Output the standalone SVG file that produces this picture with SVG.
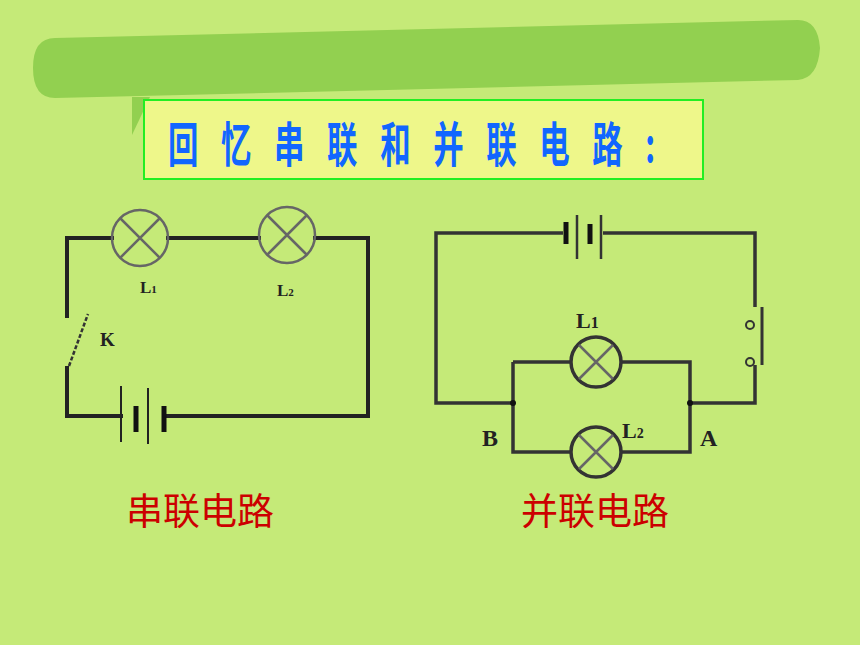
<svg xmlns="http://www.w3.org/2000/svg" width="860" height="645" viewBox="0 0 860 645">
<style>
.w{fill:none;stroke:#222;stroke-width:4;stroke-linecap:square}
.pw{fill:none;stroke:#333;stroke-width:3.5}
.lamp{fill:none;stroke:#666;stroke-width:2.5}
.lbl{font-family:"Liberation Serif",serif;font-weight:bold;fill:#222}
.red{font-family:"Noto Sans CJK SC",sans-serif;font-size:37px;fill:#cc0000;text-anchor:middle}
</style>
<rect width="860" height="645" fill="#c5ea78"/>
<g id="banner">
<path d="M55,38 L798,20 Q818,20 820,48 Q818,78 798,80 L55,98 Q33,98 33,68 Q33,38 55,38 Z" fill="#92d050"/>
<path d="M132,97 L132,135 L150,97 Z" fill="#92d050"/>
</g>
<g id="title">
<rect x="144" y="100" width="559" height="79" fill="#eef78a" stroke="#22ee22" stroke-width="2"/>
<text transform="translate(168,162) scale(0.8,1.25)" x="0" y="0" textLength="609" lengthAdjust="spacing" font-family="Noto Sans CJK SC,sans-serif" font-weight="bold" font-size="38" fill="#1166ff">回忆串联和并联电路:</text>
</g>
<g id="connectors">
<path class="w" d="M112,238 H67 V316 M67,368 V416 H121 M164,416 H368 V238 H315 M168,238 H259"/>
<line x1="69" y1="366" x2="88" y2="314" stroke="#333" stroke-width="2.5" stroke-dasharray="4,2"/>
<path class="pw" d="M563,233 H436 V403 H513 M603,233 H755 V307 M755,365 V403 H690 M513,362 H571 M621,362 H690 V452 H621 M571,452 H513 V362"/>
<line x1="762" y1="307" x2="762" y2="365" stroke="#333" stroke-width="3"/>
</g>
<g id="series-battery">
<line x1="121" y1="386" x2="121" y2="442" stroke="#222" stroke-width="2"/>
<line x1="136" y1="406" x2="136" y2="432" stroke="#111" stroke-width="5"/>
<line x1="148" y1="388" x2="148" y2="444" stroke="#222" stroke-width="2"/>
<line x1="164" y1="406" x2="164" y2="432" stroke="#111" stroke-width="5"/>
</g>
<g id="L1s"><circle class="lamp" cx="140" cy="238" r="28"/><path class="lamp" d="M120,218 L160,258 M160,218 L120,258"/><text class="lbl" x="140" y="293" font-size="17">L<tspan font-size="11">1</tspan></text></g>
<g id="L2s"><circle class="lamp" cx="287" cy="235" r="28"/><path class="lamp" d="M267,215 L307,255 M307,215 L267,255"/><text class="lbl" x="277" y="296" font-size="17">L<tspan font-size="11">2</tspan></text></g>
<text class="lbl" x="100" y="346" font-size="19">K</text>
<g id="par-battery">
<line x1="566" y1="222" x2="566" y2="244" stroke="#111" stroke-width="5"/>
<line x1="577" y1="215" x2="577" y2="259" stroke="#333" stroke-width="2.5"/>
<line x1="590" y1="224" x2="590" y2="244" stroke="#111" stroke-width="5"/>
<line x1="601" y1="215" x2="601" y2="259" stroke="#333" stroke-width="2.5"/>
</g>
<g id="switch2"><circle cx="750" cy="325" r="4" fill="none" stroke="#333" stroke-width="2"/><circle cx="750" cy="362" r="4" fill="none" stroke="#333" stroke-width="2"/></g>
<g id="L1p"><circle class="pw" cx="596" cy="362" r="25"/><path class="lamp" d="M579,345 L613,379 M613,345 L579,379"/><text class="lbl" x="576" y="328" font-size="22">L<tspan font-size="16">1</tspan></text></g>
<g id="L2p"><circle class="pw" cx="596" cy="452" r="25"/><path class="lamp" d="M579,435 L613,469 M613,435 L579,469"/><text class="lbl" x="622" y="438" font-size="22">L<tspan font-size="14">2</tspan></text></g>
<circle cx="513" cy="403" r="3" fill="#111"/><circle cx="690" cy="403" r="3" fill="#111"/>
<text class="lbl" x="482" y="446" font-size="24">B</text>
<text class="lbl" x="700" y="446" font-size="24">A</text>
<text class="red" x="200" y="525">串联电路</text>
<text class="red" x="595" y="525">并联电路</text>
</svg>
